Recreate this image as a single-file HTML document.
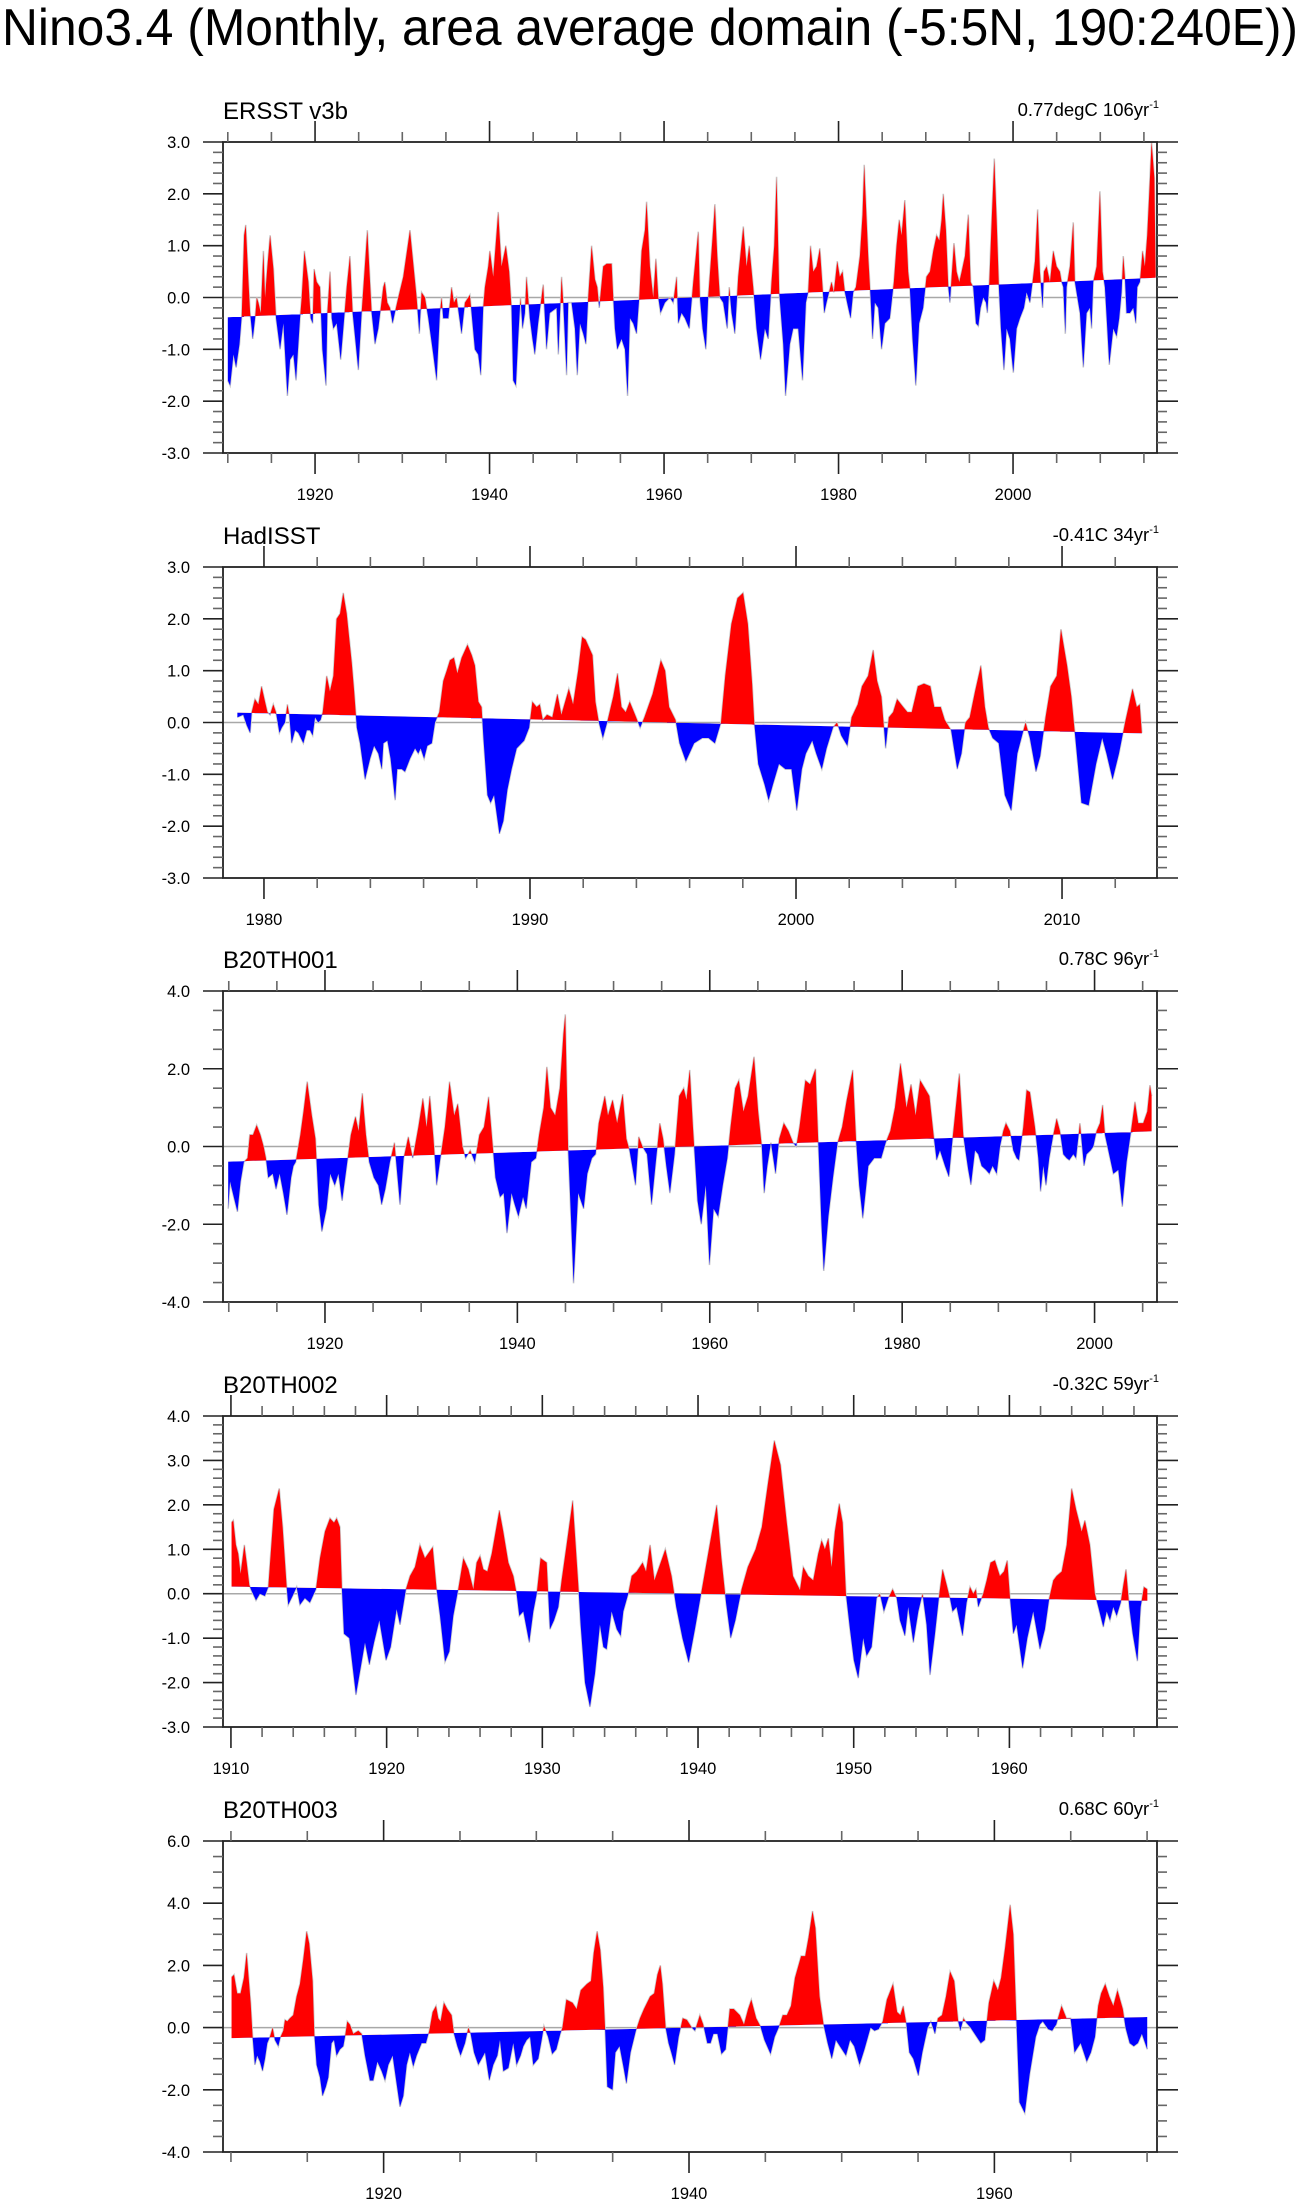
<!DOCTYPE html>
<html>
<head>
<meta charset="utf-8">
<style>
  html, body { margin: 0; padding: 0; background: #ffffff; }
  svg { display: block; }
  text { font-family: "Liberation Sans", "DejaVu Sans", sans-serif; fill: #000; }
</style>
</head>
<body>
<svg id="chart" xmlns="http://www.w3.org/2000/svg" width="1300" height="2207" viewBox="0 0 1300 2207">
  <rect x="0" y="0" width="1300" height="2207" fill="#ffffff"/>
  <text x="2" y="45" font-size="52" textLength="1296" lengthAdjust="spacingAndGlyphs">Nino3.4 (Monthly, area average domain (-5:5N, 190:240E))</text>
  <defs id="defs"></defs>
</svg>
<script>
// ---------- ERSST v3b ----------
const ersstYears = [1910.0,1910.27,1910.65,1910.95,1911.34,1911.6,1911.87,1912.06,1912.37,1912.56,1912.86,1913.13,1913.32,1913.51,1913.78,1914.08,1914.27,1914.54,1914.85,1915.23,1915.53,1915.99,1916.37,1916.83,1917.14,1917.52,1917.82,1918.28,1918.47,1918.78,1919.24,1919.5,1919.73,1919.89,1920.19,1920.57,1920.84,1921.26,1921.41,1921.72,1921.91,1922.1,1922.48,1922.94,1923.24,1923.63,1924.0,1924.31,1924.96,1925.34,1925.99,1926.49,1926.87,1927.25,1927.82,1928.0,1928.28,1928.59,1928.89,1929.27,1929.54,1930.11,1930.88,1931.64,1931.95,1932.21,1932.6,1932.98,1933.55,1933.93,1934.31,1934.5,1934.69,1935.27,1935.65,1935.92,1936.22,1936.79,1937.18,1937.75,1938.32,1938.7,1939.0,1939.27,1939.47,1939.85,1940.04,1940.42,1940.99,1941.37,1941.87,1942.25,1942.52,1942.71,1943.02,1943.28,1943.55,1943.78,1944.05,1944.24,1944.62,1944.92,1945.19,1945.57,1946.15,1946.53,1946.9,
1947.69,1947.88,1948.26,1948.45,1948.83,1949.02,1949.4,1949.79,1950.05,1950.36,1950.74,1951.05,1951.31,1951.7,1952.08,1952.35,1952.57,1953.03,1953.42,1953.99,1954.18,1954.37,1954.64,1955.13,1955.52,1955.82,1956.09,1956.47,1956.85,1957.16,1957.43,1957.81,1958.0,1958.38,1958.76,1959.07,1959.34,1959.6,1960.1,1960.67,1961.05,1961.44,1961.63,1962.01,1962.39,1962.89,1963.35,1963.92,1964.11,1964.42,1964.8,1965.06,1965.45,1965.83,1966.1,1966.4,1966.78,1967.24,1967.47,1967.74,1968.12,1968.5,1969.08,1969.46,1969.76,1970.22,1970.6,1971.06,1971.56,1971.94,1972.32,1972.63,1972.9,1973.2,1973.66,1973.93,1974.42,1974.8,1975.38,1975.87,1976.26,1976.52,1976.79,1977.1,1977.48,1977.86,1978.17,1978.36,1978.62,1979.2,1979.46,1979.85,1980.15,1980.46,1980.73,1981.11,1981.38,1981.68,1981.99,1982.45,1982.75,1982.94,1983.4,1983.67,1983.9,1984.16,1984.55,1984.93,1985.31,1985.88,1986.34,1986.65,1986.95,1987.22,1987.6,1987.98,1988.17,1988.48,1988.86,1989.24,1989.7,1990.08,
1990.48,1990.86,1991.24,1991.55,1991.81,1992.0,1992.31,1992.58,1992.77,1992.96,1993.23,1993.53,1993.84,1994.11,1994.49,1994.87,1995.14,1995.44,1995.75,1996.02,1996.28,1996.59,1996.9,1997.05,1997.28,1997.58,1997.85,1998.12,1998.38,1998.61,1998.96,1999.26,1999.64,2000.03,2000.41,2000.79,2001.25,2001.55,2001.94,2002.24,2002.51,2002.82,2003.08,2003.39,2003.54,2003.85,2004.23,2004.61,2004.99,2005.37,2005.57,2005.76,2005.99,2006.14,2006.52,2006.9,2007.09,2007.28,2007.67,2008.05,2008.43,2008.81,2009.0,2009.19,2009.58,2009.96,2010.26,2010.53,2010.8,2011.03,2011.49,2011.87,2012.17,2012.44,2012.63,2012.82,2013.01,2013.4,2013.78,2014.08,2014.24,2014.54,2014.85,2015.11,2015.38,2015.61,2015.88,2016.2,2016.35];
const ersstValues = [-1.6,-1.7,-1.1,-1.35,-0.9,-0.35,1.2,1.4,0.3,-0.3,-0.8,-0.4,0.0,-0.1,-0.3,0.9,0.0,0.6,1.2,0.55,-0.4,-1.0,-0.5,-1.9,-1.2,-1.1,-1.6,-0.4,0.0,0.9,0.3,-0.4,-0.5,0.55,0.3,0.2,-1.0,-1.7,-0.3,0.5,-0.4,-0.6,-0.5,-1.2,-0.6,0.2,0.8,-0.3,-1.4,-0.3,1.3,-0.3,-0.9,-0.6,0.2,0.3,-0.1,-0.2,-0.5,-0.2,0.0,0.4,1.3,0.0,-0.7,0.1,0.0,-0.4,-1.1,-1.6,-0.3,0.0,-0.4,-0.4,0.2,-0.1,0.0,-0.7,-0.1,0.05,-1.0,-1.1,-1.5,-0.2,0.2,0.6,0.9,0.4,1.65,0.6,1.0,0.5,-0.2,-1.6,-1.7,-0.8,0.0,-0.6,-0.3,0.4,-0.4,-0.8,-1.1,-0.5,0.25,-1.0,-0.3,
-0.2,-1.1,0.4,-0.1,-1.5,-0.1,-0.1,-0.6,-1.5,-0.5,-0.7,-0.9,0.0,1.0,0.35,0.2,-0.2,0.6,0.65,0.65,0.0,-0.6,-1.0,-0.8,-1.0,-1.9,-0.4,-0.5,-0.7,0.0,0.9,1.3,1.85,0.6,0.0,0.75,0.0,-0.3,-0.1,0.0,-0.1,0.4,-0.5,-0.3,-0.4,-0.6,0.3,1.27,0.0,-0.6,-1.0,0.0,0.9,1.8,0.8,0.0,-0.1,-0.6,0.2,-0.3,-0.7,0.4,1.37,0.6,1.0,0.2,-0.6,-1.2,-0.6,-0.8,0.3,1.0,2.33,0.1,-0.9,-1.9,-0.9,-0.6,-0.6,-1.6,-0.1,0.1,1.0,0.5,0.6,0.95,0.2,-0.3,-0.1,0.3,0.1,0.7,0.4,0.5,0.1,-0.2,-0.4,0.1,0.2,0.8,1.6,2.56,0.8,0.0,-0.8,-0.1,-0.2,-1.0,-0.5,-0.4,0.3,1.0,1.5,1.2,1.88,0.5,0.2,-0.8,-1.7,-0.5,-0.2,0.4,
0.5,0.9,1.2,1.1,1.5,2.0,1.3,0.2,-0.1,0.4,1.05,0.5,0.3,0.5,0.8,1.6,0.3,0.2,-0.5,-0.55,-0.2,0.0,-0.1,-0.3,0.3,1.6,2.68,1.5,0.2,-0.6,-1.4,-0.6,-0.8,-1.45,-0.6,-0.4,-0.2,0.1,-0.1,0.3,0.7,1.7,0.5,-0.2,0.5,0.6,0.3,0.9,0.6,0.5,0.3,0.2,-0.7,0.2,0.6,1.45,0.3,0.1,-0.3,-1.35,-0.3,-0.2,-0.6,0.3,0.6,2.05,0.5,0.2,-0.6,-1.3,-0.6,-0.75,-0.4,0.1,0.8,0.4,-0.3,-0.3,-0.2,-0.5,0.2,0.3,0.9,0.6,1.2,2.0,3.0,2.3,0.4];
const ersstTrendYears = [1910.0, 2016.35];
const ersstTrendValues = [-0.38, 0.38];
const ersstYTicks = [-3, -2, -1, 0, 1, 2, 3];

// ---------- HadISST ----------
const hadYears = [1979.0,1979.22,1979.35,1979.48,1979.54,1979.66,1979.79,1979.91,1980.04,1980.13,1980.23,1980.35,1980.45,1980.58,1980.67,1980.79,1980.88,1980.95,1981.04,1981.17,1981.29,1981.48,1981.61,1981.73,1981.83,1981.92,1982.04,1982.13,1982.21,1982.36,1982.48,1982.61,1982.73,1982.86,1982.98,1983.11,1983.3,1983.39,1983.49,1983.61,1983.8,1983.99,1984.14,1984.3,1984.43,1984.49,1984.64,1984.76,1984.93,1985.01,1985.18,1985.3,1985.49,1985.68,1985.8,1985.89,1986.02,1986.14,1986.31,1986.43,1986.59,1986.74,1986.87,1986.99,1987.14,1987.27,1987.43,1987.65,1987.81,1987.93,1988.06,1988.18,1988.25,1988.4,1988.52,1988.65,1988.85,1989.0,1989.15,1989.31,1989.5,
1989.78,1989.97,1990.09,1990.25,1990.37,1990.48,1990.64,1990.84,1991.03,1991.18,1991.46,1991.62,1991.81,1991.96,1992.09,1992.35,1992.46,1992.59,1992.74,1992.9,1993.13,1993.29,1993.44,1993.6,1993.75,1993.99,1994.14,1994.3,1994.61,1994.92,1995.08,1995.23,1995.47,1995.62,1995.86,1996.17,1996.48,1996.71,1996.95,1997.18,1997.34,1997.57,1997.8,1998.01,1998.19,1998.35,1998.43,1998.58,1998.82,1998.97,1999.13,1999.36,1999.6,1999.83,2000.03,2000.22,2000.37,2000.61,2000.76,2000.97,2001.15,2001.39,2001.54,2001.7,2001.93,2002.09,2002.32,2002.48,2002.71,2002.9,2003.05,2003.21,2003.37,2003.49,2003.65,2003.8,2004.03,2004.19,2004.35,2004.58,2004.81,2005.05,2005.2,2005.44,2005.59,2005.83,2006.06,2006.22,2006.37,2006.53,2006.73,2006.95,2007.1,2007.23,2007.39,2007.62,2007.85,2008.09,2008.32,2008.55,2008.63,2008.79,2009.02,2009.18,2009.38,2009.57,2009.8,2009.96,2010.19,2010.35,2010.5,2010.73,2011.0,2011.28,2011.51,2011.67,2011.9,2012.14,2012.37,2012.65,2012.81,2012.92,2013.0];
const hadValues = [0.1,0.15,-0.05,-0.2,0.2,0.45,0.35,0.7,0.4,0.2,0.15,0.35,0.2,-0.2,-0.1,0.0,0.35,0.15,-0.4,-0.15,-0.2,-0.4,-0.15,-0.15,-0.25,0.1,0.0,0.05,0.2,0.9,0.6,0.9,2.0,2.1,2.5,2.1,1.15,0.6,-0.1,-0.4,-1.1,-0.7,-0.45,-0.6,-0.9,-0.4,-0.35,-0.7,-1.5,-0.9,-0.9,-0.95,-0.7,-0.5,-0.6,-0.5,-0.7,-0.45,-0.4,0.0,0.2,0.8,1.0,1.2,1.25,0.95,1.25,1.5,1.3,1.1,0.4,0.3,-0.3,-1.4,-1.55,-1.4,-2.15,-1.9,-1.3,-0.9,-0.5,
-0.35,-0.1,0.4,0.3,0.35,0.05,0.15,0.1,0.55,0.15,0.65,0.35,1.0,1.65,1.6,1.3,0.4,0.0,-0.3,0.0,0.5,0.95,0.3,0.2,0.4,0.1,-0.1,0.1,0.55,1.2,1.0,0.3,0.05,-0.4,-0.75,-0.4,-0.3,-0.3,-0.4,0.0,0.9,1.9,2.4,2.5,1.9,0.75,0.0,-0.8,-1.2,-1.5,-1.2,-0.8,-0.9,-0.9,-1.7,-0.9,-0.6,-0.35,-0.6,-0.9,-0.5,-0.1,0.0,-0.25,-0.45,0.1,0.35,0.7,0.9,1.4,0.8,0.5,-0.5,0.1,0.2,0.45,0.3,0.2,0.2,0.7,0.75,0.7,0.3,0.3,0.05,-0.15,-0.9,-0.6,0.0,0.1,0.6,1.1,0.3,-0.1,-0.3,-0.4,-1.4,-1.7,-0.6,-0.15,0.0,-0.3,-0.95,-0.65,0.1,0.7,0.9,1.8,1.1,0.5,-0.3,-1.55,-1.6,-0.8,-0.3,-0.6,-1.1,-0.6,0.0,0.65,0.3,0.35,-0.2];
const hadTrendYears = [1979.0, 2013.0];
const hadTrendValues = [0.19, -0.21];
const hadYTicks = [-3, -2, -1, 0, 1, 2, 3];

// ---------- B20TH001 ----------
const b1Years = [1909.94,1910.13,1910.52,1910.9,1911.23,1911.57,1911.95,1912.19,1912.52,1912.9,1913.29,1913.62,1913.86,1914.1,1914.57,1914.91,1915.29,1915.67,1916.05,1916.48,1916.72,1916.96,1917.44,1917.77,1918.15,1918.63,1919.01,1919.35,1919.68,1920.16,1920.54,1921.02,1921.4,1921.78,1922.21,1922.69,1923.17,1923.5,1923.88,1924.26,1924.6,1925.08,1925.55,1925.89,1926.27,1926.75,1927.22,1927.8,1928.18,1928.66,1929.13,1929.71,1930.18,1930.56,1930.9,1931.28,1931.61,1932.0,1932.47,1932.95,1933.43,1933.81,1934.29,1934.62,1935.1,1935.58,1936.05,1936.53,1937.01,1937.34,1937.72,1938.2,1938.58,1938.92,1939.39,1939.73,1940.11,1940.59,1940.92,1941.45,1941.93,1942.26,1942.74,1943.07,1943.45,1943.93,1944.41,1944.79,1944.98,1945.27,1945.6,1945.84,1946.32,1946.89,1947.27,1947.75,1948.13,1948.46,1949.09,1949.42,1949.9,1950.37,1950.95,1951.33,1951.66,1952.28,1952.62,1953.0,1953.48,1953.95,1954.43,1954.81,1955.15,1955.48,1955.86,1956.34,1956.82,1957.29,1957.58,1957.92,1958.25,1958.73,1959.11,1959.59,1959.97,1960.4,1960.87,1961.35,1961.83,1962.16,1962.64,1963.02,1963.5,1963.98,1964.6,1965.03,1965.41,1965.65,1965.98,1966.36,1966.84,1967.22,1967.7,1968.18,1968.66,1968.99,1969.33,1969.94,1970.42,1970.99,1971.28,1971.61,1971.85,1972.33,1972.81,1973.29,1973.76,1974.24,1974.86,1975.2,1975.53,1975.91,1976.48,1977.1,1977.82,1978.29,1978.77,1979.25,1979.82,1980.45,1980.92,1981.4,1981.88,1982.36,1982.83,1983.31,
1983.58,1983.93,1984.45,1984.86,1985.24,1985.49,1985.94,1986.35,1986.63,1986.87,1987.15,1987.57,1987.91,1988.26,1988.71,1989.06,1989.4,1989.82,1990.17,1990.51,1990.79,1991.2,1991.55,1991.9,1992.14,1992.59,1992.94,1993.28,1993.8,1994.15,1994.39,1994.67,1994.95,1995.29,1995.71,1996.06,1996.4,1996.75,1997.1,1997.37,1997.79,1998.07,1998.48,1998.9,1999.17,1999.59,1999.87,2000.21,2000.56,2000.84,2001.08,2001.43,2001.95,2002.47,2002.88,2003.33,2003.68,2004.2,2004.54,2005.06,2005.48,2005.76,2005.93];
const b1Values = [-1.6,-0.9,-1.3,-1.68,-0.9,-0.4,-0.3,0.3,0.3,0.55,0.3,0.0,-0.3,-0.8,-0.7,-1.1,-0.7,-1.2,-1.76,-0.8,-0.5,-0.4,0.3,0.9,1.67,0.8,0.2,-1.5,-2.19,-1.6,-0.7,-1.0,-0.7,-1.4,-0.6,0.3,0.77,0.4,1.37,0.3,-0.4,-0.8,-1.0,-1.5,-1.1,-0.4,0.1,-1.5,-0.3,0.25,-0.3,0.5,1.24,0.5,1.3,0.2,-1.0,-0.3,0.5,1.67,0.8,1.1,0.0,-0.3,-0.1,-0.4,0.3,0.5,1.28,0.3,-0.8,-1.3,-1.2,-2.23,-1.2,-1.5,-1.8,-1.3,-1.6,-0.4,-0.3,0.3,1.0,2.05,1.0,0.8,1.5,2.9,3.4,0.0,-2.0,-3.52,-1.2,-1.6,-0.7,-0.3,-0.2,0.6,1.3,0.8,1.2,0.6,1.35,0.2,-0.1,-1.0,0.25,0.0,-0.2,-1.5,-0.3,0.6,0.2,-0.5,-1.2,-0.2,1.3,1.5,1.2,1.97,0.5,-1.4,-2.0,-1.0,-3.05,-1.6,-1.8,-1.0,-0.3,0.5,1.5,1.7,0.9,1.3,2.31,0.9,0.0,-1.2,-0.5,0.1,-0.7,0.2,0.6,0.4,0.1,0.0,0.5,1.7,1.6,2.0,0.1,-2.0,-3.2,-1.8,-0.8,0.1,0.5,1.2,1.97,0.2,-1.0,-1.85,-0.5,-0.3,-0.3,0.1,0.4,1.0,2.14,1.0,1.6,0.8,1.7,1.5,1.3,0.2,
-0.35,-0.1,-0.5,-0.78,0.2,0.8,1.88,0.3,-0.2,-0.6,-0.99,-0.1,-0.2,-0.5,-0.6,-0.7,-0.5,-0.7,0.0,0.4,0.6,0.4,-0.1,-0.3,-0.35,0.5,1.45,1.4,0.5,-0.3,-1.16,-0.5,-1.0,-0.3,0.3,0.72,0.4,-0.2,-0.3,-0.35,-0.2,-0.3,0.6,-0.5,-0.2,-0.1,0.0,0.4,0.6,1.07,0.3,-0.1,-0.7,-0.6,-1.55,-0.4,0.2,1.15,0.6,0.6,0.9,1.58,1.3];
const b1TrendYears = [1910.0, 2006.0];
const b1TrendValues = [-0.39, 0.39];
const b1YTicks = [-4, -2, 0, 2, 4];

// ---------- B20TH002 ----------
const b2Years = [1910.04,1910.15,1910.32,1910.47,1910.62,1910.86,1911.01,1911.18,1911.28,1911.61,1911.86,1912.18,1912.4,1912.76,1913.1,1913.32,1913.58,1913.68,1913.96,1914.22,1914.43,1914.75,1915.07,1915.46,1915.72,1916.04,1916.36,1916.62,1916.79,1917.0,1917.13,1917.26,1917.6,1918.03,1918.29,1918.61,1918.89,1919.19,1919.53,1919.96,1920.26,1920.64,1920.86,1921.03,1921.24,1921.5,1921.82,1922.14,1922.46,1922.96,1923.21,1923.43,1923.75,1924.03,1924.28,1924.6,1924.93,1925.25,1925.57,1925.78,1926.0,1926.21,1926.47,1926.75,1927.24,1927.49,1927.82,1928.14,1928.35,1928.52,1928.78,1929.16,1929.42,1929.64,1929.89,1930.28,1930.49,1930.75,1931.03,1931.24,1931.56,1931.95,1932.31,1932.46,1932.74,1933.06,1933.38,1933.7,1933.92,1934.13,1934.45,1934.78,1935.03,1935.2,1935.52,1935.74,1936.06,1936.44,1936.66,1936.92,
1937.2,1937.5,1937.9,1938.3,1938.6,1939.0,1939.4,1939.8,1940.1,1940.5,1940.9,1941.2,1941.5,1941.8,1942.1,1942.4,1942.8,1943.2,1943.7,1944.1,1944.5,1944.9,1945.3,1945.7,1946.1,
1946.55,1946.76,1947.08,1947.4,1947.72,1947.94,1948.15,1948.37,1948.58,1948.79,1949.07,1949.29,1949.5,1949.76,1950.01,1950.29,1950.61,1950.83,1951.15,1951.47,1951.68,1951.94,1952.22,1952.5,1952.76,1952.97,1953.29,1953.5,1953.83,1954.15,1954.42,1954.68,1954.9,1955.22,1955.5,1955.71,1955.97,1956.18,1956.35,1956.61,1956.99,1957.25,1957.47,1957.68,1957.85,1958.0,1958.32,1958.54,1958.79,1959.07,1959.39,1959.65,1959.86,1960.04,1960.25,1960.46,1960.85,1961.15,1961.53,1961.96,1962.28,1962.56,1962.82,1963.03,1963.36,1963.68,1964.0,1964.28,1964.64,1964.85,1965.17,1965.49,1965.71,1966.03,1966.25,1966.46,1966.67,1966.89,1967.15,1967.32,1967.49,1967.7,1967.92,1968.22,1968.43,1968.64,1968.86];
const b2Values = [1.6,1.65,1.1,0.9,0.45,1.1,0.7,0.2,0.1,-0.15,0.0,-0.05,0.15,1.9,2.37,1.5,0.15,-0.25,-0.05,0.15,-0.25,-0.1,-0.2,0.1,0.8,1.4,1.7,1.6,1.7,1.5,0.1,-0.9,-1.0,-2.28,-1.75,-1.1,-1.6,-1.1,-0.6,-1.5,-1.2,-0.35,-0.7,-0.35,0.1,0.4,0.6,1.1,0.8,1.05,0.1,-0.5,-1.53,-1.3,-0.5,0.1,0.8,0.55,0.1,0.7,0.85,0.55,0.5,0.9,1.88,1.4,0.7,0.4,0.0,-0.5,-0.4,-1.1,-0.4,0.0,0.8,0.7,-0.8,-0.6,-0.3,0.3,1.1,2.1,0.2,-0.7,-2.0,-2.55,-1.8,-0.7,-1.2,-1.25,-0.4,-0.8,-0.95,-0.4,0.0,0.4,0.5,0.7,0.5,1.1,
0.3,0.6,1.0,0.4,-0.3,-1.0,-1.55,-0.8,-0.2,0.6,1.4,2.0,0.8,-0.2,-1.0,-0.6,0.1,0.6,1.0,1.5,2.5,3.45,2.9,1.6,0.4,
0.08,0.6,0.4,0.3,0.9,1.2,1.0,1.25,0.6,1.4,2.03,1.6,0.0,-0.8,-1.5,-1.9,-1.0,-1.4,-1.2,-0.1,0.0,-0.4,-0.1,0.1,-0.1,-0.6,-0.95,-0.3,-1.1,-0.4,0.0,-0.7,-1.83,-0.9,0.0,0.55,0.2,-0.1,-0.4,-0.3,-0.95,-0.2,0.15,0.0,0.1,-0.3,0.0,0.3,0.7,0.75,0.4,0.5,0.75,-0.1,-0.9,-0.7,-1.68,-1.0,-0.4,-1.25,-0.8,-0.1,0.3,0.4,0.5,1.1,2.37,1.9,1.4,1.65,1.1,0.0,-0.3,-0.75,-0.4,-0.6,-0.3,-0.5,-0.2,0.2,0.55,-0.3,-0.9,-1.52,-0.3,0.15,0.1];
const b2TrendYears = [1910.0, 1969.0];
const b2TrendValues = [0.16, -0.16];
const b2YTicks = [-3, -2, -1, 0, 1, 2, 3, 4];

// ---------- B20TH003 ----------
const b3Years = [1910.04,1910.2,1910.41,1910.63,1910.85,1911.03,1911.16,1911.29,1911.42,1911.57,1911.72,1911.9,1912.07,1912.23,1912.38,1912.55,1912.73,1912.88,1913.1,1913.25,1913.43,1913.54,1913.69,1913.86,1914.08,1914.3,1914.52,1914.74,1914.96,1915.13,1915.35,1915.46,1915.61,1915.83,1916.0,1916.22,1916.38,1916.59,1916.75,1916.92,1917.14,1917.36,1917.47,1917.62,1917.79,1918.01,1918.34,1918.56,1918.78,1919.1,1919.32,1919.59,1919.87,1920.09,1920.31,1920.59,1920.85,1921.07,1921.29,1921.51,1921.72,1921.94,1922.16,1922.49,1922.77,1922.99,1923.21,1923.43,1923.58,1923.73,1923.95,1924.17,1924.45,1924.61,1924.83,1925.04,1925.33,1925.55,1925.7,1925.92,1926.2,1926.42,1926.64,1926.92,1927.18,1927.45,1927.62,1927.84,1928.17,1928.49,1928.71,1928.97,1929.15,1929.37,1929.59,1929.8,1930.13,1930.35,
1930.5,1930.77,1931.04,1931.31,1931.57,1931.71,1931.97,1932.37,1932.64,1932.91,1933.31,1933.58,1933.76,1933.98,1934.19,1934.38,1934.51,1934.65,1934.99,1935.18,1935.45,1935.72,1935.9,1936.17,1936.52,1936.79,1937.05,1937.45,1937.72,1937.93,1938.12,1938.26,1938.47,1938.66,1938.84,1939.06,1939.32,1939.59,1939.86,1940.18,1940.39,1940.71,1940.93,1941.2,1941.41,1941.6,1941.86,1942.13,1942.4,1942.67,1942.93,1943.33,1943.6,1943.87,1944.08,1944.4,1944.67,1944.94,1945.34,1945.61,1945.87,1946.14,1946.41,1946.68,1946.94,1947.34,1947.61,1947.83,1948.09,1948.28,1948.55,1948.81,1949.08,1949.35,1949.62,1949.88,1950.28,1950.55,1950.82,1951.17,1951.49,1951.89,1952.15,1952.42,1952.69,1952.96,1953.36,1953.63,1953.84,1954.03,1954.24,1954.43,1954.69,1955.02,1955.28,1955.63,1955.84,1956.11,1956.3,1956.57,1956.83,1957.1,1957.37,1957.63,1957.77,1957.98,1958.17,1958.44,1958.84,1959.11,1959.37,1959.64,1959.96,1960.23,1960.44,1960.71,1961.03,1961.24,1961.46,1961.64,1961.99,1962.31,1962.71,1962.98,1963.17,1963.52,1963.78,1964.05,1964.4,1964.72,1964.99,1965.25,1965.65,1966.05,1966.32,1966.59,1966.8,1966.99,1967.26,1967.53,1967.79,1968.06,1968.41,1968.59,1968.86,1969.13,1969.4,1969.66,1970.01];
const b3Values = [1.62,1.7,1.1,1.1,1.6,2.4,1.6,0.8,-0.3,-1.2,-0.9,-1.1,-1.4,-1.0,-0.5,-0.3,0.0,-0.4,-0.6,-0.3,-0.1,0.25,0.2,0.3,0.4,1.0,1.4,2.2,3.1,2.7,1.5,-0.2,-1.2,-1.6,-2.2,-1.9,-1.6,-0.5,-0.4,-0.9,-0.7,-0.6,-0.3,0.2,0.1,-0.2,-0.1,-0.2,-0.9,-1.7,-1.7,-1.1,-1.4,-1.7,-1.2,-0.9,-1.8,-2.55,-2.2,-1.2,-0.8,-1.25,-0.9,-0.5,-0.5,-0.1,0.5,0.7,0.3,0.2,0.8,0.6,0.4,-0.2,-0.6,-0.9,-0.5,0.0,-0.2,-0.8,-1.2,-1.0,-0.8,-1.7,-1.2,-0.9,-0.4,-1.4,-1.3,-0.5,-1.2,-0.9,-0.6,-0.4,-0.3,-1.2,-1.0,-0.4,
0.05,-0.3,-0.85,-0.7,-0.2,0.0,0.9,0.8,0.6,1.2,1.4,1.5,2.4,3.1,2.5,1.3,-0.1,-1.9,-2.0,-0.8,-0.6,-1.3,-1.8,-0.8,-0.1,0.3,0.6,1.0,1.1,1.7,2.0,1.4,0.0,-0.5,-0.8,-1.2,-0.3,0.3,0.25,0.0,-0.1,0.4,0.1,-0.5,-0.5,-0.2,-0.2,-0.85,-0.7,0.6,0.6,0.4,0.1,0.6,0.9,0.3,0.05,-0.4,-0.85,-0.3,0.0,0.4,0.4,0.7,1.6,2.3,2.3,2.9,3.75,3.2,1.0,0.1,-0.5,-1.0,-0.4,-0.6,-0.9,-0.4,-0.6,-1.2,-0.7,0.0,-0.1,-0.05,0.2,0.9,1.4,0.5,0.4,0.7,0.1,-0.8,-1.0,-1.55,-0.8,0.0,0.2,-0.2,0.3,0.4,1.0,1.8,1.5,0.2,-0.1,0.3,0.15,0.0,-0.3,-0.5,-0.4,0.8,1.5,1.2,1.6,2.6,3.95,3.0,0.0,-2.4,-2.75,-1.5,-0.3,0.1,0.2,-0.05,-0.1,0.1,0.7,0.3,0.3,-0.8,-0.5,-1.1,-0.8,-0.3,0.7,1.1,1.4,1.0,0.7,1.2,0.6,0.0,-0.5,-0.6,-0.5,-0.2,-0.7];
const b3TrendYears = [1910.0, 1970.0];
const b3TrendValues = [-0.34, 0.34];
const b3YTicks = [-4, -2, 0, 2, 4, 6];

// ---------- Layout (geometry only) ----------
const L = 223, R = 1157, H = 311;
const svg = document.getElementById('chart');
const defs = document.getElementById('defs');
const NS = 'http://www.w3.org/2000/svg';
function mk(tag, attrs) {
  const el = document.createElementNS(NS, tag);
  for (const k in attrs) el.setAttribute(k, attrs[k]);
  return el;
}

function drawPanel(cfg, years, vals, tYears, tVals, yTicks) {
  const top = cfg.top, bottom = top + H;
  const g = mk('g', {});
  
  
  svg.appendChild(g);

  const X = yr => L + (yr - cfg.xMin) / (cfg.xMax - cfg.xMin) * (R - L);
  const yMin = yTicks[0], yMax = yTicks[yTicks.length - 1];
  const Y = v => top + (yMax - v) / (yMax - yMin) * H;
  const slope = (tVals[1] - tVals[0]) / (tYears[1] - tYears[0]);
  const T = yr => tVals[0] + slope * (yr - tYears[0]);

  // clip regions above / below trend line
  const caId = cfg.key + '-above', cbId = cfg.key + '-below';
  const ca = mk('clipPath', { id: caId });
  ca.appendChild(mk('polygon', { points: `${L},${Y(T(cfg.xMin))} ${R},${Y(T(cfg.xMax))} ${R},${top} ${L},${top}` }));
  const cb = mk('clipPath', { id: cbId });
  cb.appendChild(mk('polygon', { points: `${L},${Y(T(cfg.xMin))} ${R},${Y(T(cfg.xMax))} ${R},${bottom} ${L},${bottom}` }));
  defs.appendChild(ca); defs.appendChild(cb);

  const n = Math.min(years.length, vals.length);
  const linePts = [];
  for (let i = 0; i < n; i++) linePts.push(X(years[i]).toFixed(2) + ',' + Y(vals[i]).toFixed(2));
  const first = years[0], last = years[n - 1];
  const polyPts = linePts.concat([X(last).toFixed(2) + ',' + Y(T(last)).toFixed(2), X(first).toFixed(2) + ',' + Y(T(first)).toFixed(2)]).join(' ');

  // zero line
  const zero = mk('line', { x1: L, x2: R, y1: Y(0), y2: Y(0), stroke: '#a8a8a8', 'stroke-width': 1.5 });
  
  
  g.appendChild(zero);

  // light grey data outline
  const outline = mk('polyline', { points: linePts.join(' '), fill: 'none', stroke: '#cccccc', 'stroke-width': 1.6 });
  
  
  g.appendChild(outline);

  const red = mk('polygon', { points: polyPts, fill: '#ff0000', 'clip-path': `url(#${caId})` });
  
  
  g.appendChild(red);
  const blue = mk('polygon', { points: polyPts, fill: '#0000ff', 'clip-path': `url(#${cbId})` });
  
  
  g.appendChild(blue);

  // frame
  const frame = mk('rect', { x: L, y: top, width: R - L, height: H, fill: 'none', stroke: '#222', 'stroke-width': 1.8 });
  
  
  g.appendChild(frame);

  // y ticks
  const yMajor = yTicks[1] - yTicks[0];
  const nMinor = Math.round((yMax - yMin) / cfg.yMinor);
  for (let i = 0; i <= nMinor; i++) {
    const v = yMin + i * cfg.yMinor;
    const isMajor = Math.abs((v - yMin) / yMajor - Math.round((v - yMin) / yMajor)) < 1e-6;
    const len = isMajor ? 20 : 10;
    const col = isMajor ? '#222' : '#666';
    const yy = Y(v);
    const tl = mk('line', { x1: L - len, x2: L, y1: yy, y2: yy, stroke: col, 'stroke-width': 1.6 });
    
    
    g.appendChild(tl);
    const tr = mk('line', { x1: R, x2: R + len + (isMajor ? 1 : 0), y1: yy, y2: yy, stroke: col, 'stroke-width': 1.6 });
    
    
    g.appendChild(tr);
  }
  for (const v of yTicks) {
    const lab = mk('text', { x: 190, y: Y(v) + 6, 'font-size': 16.5, 'text-anchor': 'end' });
    lab.textContent = v.toFixed(1);
    
    
    g.appendChild(lab);
  }

  // x ticks
  const startYr = Math.ceil(cfg.xMin / cfg.xMinor) * cfg.xMinor;
  for (let yr = startYr; yr <= cfg.xMax + 1e-6; yr += cfg.xMinor) {
    const isMajor = Math.abs(yr % cfg.xMajor) < 1e-6;
    const len = isMajor ? 21 : 10;
    const col = isMajor ? '#222' : '#666';
    const xx = X(yr);
    const tt = mk('line', { x1: xx, x2: xx, y1: top - len, y2: top, stroke: col, 'stroke-width': 1.6 });
    
    
    g.appendChild(tt);
    const tb = mk('line', { x1: xx, x2: xx, y1: bottom, y2: bottom + len, stroke: col, 'stroke-width': 1.6 });
    
    
    g.appendChild(tb);
    if (isMajor) {
      const lab = mk('text', { x: xx, y: bottom + 47, 'font-size': 16.5, 'text-anchor': 'middle' });
      lab.textContent = String(yr);
      
      
      g.appendChild(lab);
    }
  }

  // titles
  const title = mk('text', { x: L, y: top - 23, 'font-size': 24 });
  title.textContent = cfg.title;
  
  
  g.appendChild(title);

  const trendLab = mk('text', { x: 1159, y: top - 26, 'font-size': 18.5, 'text-anchor': 'end' });
  const t1 = mk('tspan', {});
  t1.textContent = cfg.trendText;
  trendLab.appendChild(t1);
  const t2 = mk('tspan', { 'font-size': 11, dy: -8 });
  t2.textContent = '-1';
  trendLab.appendChild(t2);
  
  
  g.appendChild(trendLab);
}

drawPanel({ key: 'ersst', title: 'ERSST v3b', trendText: '0.77degC 106yr', top: 142, xMin: 1909.45, xMax: 2016.5, xMajor: 20, xMinor: 5, yMinor: 0.2 },
  ersstYears, ersstValues, ersstTrendYears, ersstTrendValues, ersstYTicks);
drawPanel({ key: 'hadisst', title: 'HadISST', trendText: '-0.41C 34yr', top: 567, xMin: 1978.46, xMax: 2013.57, xMajor: 10, xMinor: 2, yMinor: 0.2 },
  hadYears, hadValues, hadTrendYears, hadTrendValues, hadYTicks);
drawPanel({ key: 'b20th001', title: 'B20TH001', trendText: '0.78C 96yr', top: 991, xMin: 1909.4, xMax: 2006.49, xMajor: 20, xMinor: 5, yMinor: 0.5 },
  b1Years, b1Values, b1TrendYears, b1TrendValues, b1YTicks);
drawPanel({ key: 'b20th002', title: 'B20TH002', trendText: '-0.32C 59yr', top: 1416, xMin: 1909.49, xMax: 1969.48, xMajor: 10, xMinor: 2, yMinor: 0.2 },
  b2Years, b2Values, b2TrendYears, b2TrendValues, b2YTicks);
drawPanel({ key: 'b20th003', title: 'B20TH003', trendText: '0.68C 60yr', top: 1841, xMin: 1909.48, xMax: 1970.65, xMajor: 20, xMinor: 5, yMinor: 0.5 },
  b3Years, b3Values, b3TrendYears, b3TrendValues, b3YTicks);
</script>
</body>
</html>
